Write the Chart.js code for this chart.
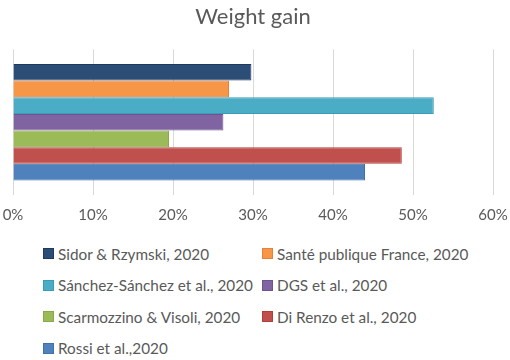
<!DOCTYPE html>
<html>
<head>
<meta charset="utf-8">
<script src="https://cdn.jsdelivr.net/npm/chart.js@4"></script>
<style>
  body { margin: 0; background: #fff; }
  #wrap { position: relative; width: 510px; height: 360px; }
  #box { position: absolute; left: 0; top: 0; width: 510px; height: 239px; }
  #legend {
    position: absolute; left: 43px; top: 243px;
    display: grid; grid-template-columns: 219px 230px; row-gap: 10.5px;
    font-family: Lato, sans-serif; font-size: 15.3px; color: #595959;
  }
  .item { display: flex; align-items: center; height: 21px; white-space: nowrap; }
  .sw { width: 9px; height: 9px; margin-right: 4px; border: 1px solid; }
</style>
</head>
<body>
<div id="wrap">
  <div id="box"><canvas id="weightChart"></canvas></div>
  <div id="legend"></div>
</div>
<script>
// one category, one dataset per study
let studies = ["Sidor & Rzymski, 2020", "Santé publique France, 2020", "Sánchez-Sánchez et al., 2020",
  "DGS et al., 2020", "Scarmozzino & Visoli, 2020", "Di Renzo et al., 2020", "Rossi et al.,2020"]
let gain = [29.8, 27.0, 52.6, 26.3, 19.5, 48.6, 44.0]
let fills = ["#2C4D75", "#F79646", "#4BACC6", "#8064A2", "#9BBB59", "#C0504D", "#4F81BD"]
let edges = ["#1F3864", "#E6803A", "#3A9CB6", "#6E5390", "#8AAA48", "#B03F3C", "#3E70AC"]
let xTicks = [0, 10, 20, 30, 40, 50, 60]

let ctx = document.getElementById("weightChart").getContext("2d")

let datasets = studies.map(function(name, i) {
  return {
    label: name,
    data: [gain[i]],
    backgroundColor: fills[i],
    borderColor: edges[i],
    borderWidth: 1,
    categoryPercentage: 0.8,
    barPercentage: 1.0
  }
})

let chart = new Chart(ctx, {
  type: 'bar',
  data: { labels: ["Weight gain"], datasets: datasets },
  options: {
    indexAxis: 'y',
    responsive: true,
    maintainAspectRatio: false,
    animation: false,
    layout: { padding: { left: 13, right: 17, top: 0, bottom: 4 } },
    plugins: {
      legend: { display: false },
      tooltip: { enabled: false },
      title: {
        display: true,
        text: "Weight gain",
        color: "#595959",
        font: { family: "Lato", size: 22, weight: 'normal' },
        padding: { top: 4, bottom: 19 }
      }
    },
    scales: {
      x: {
        min: 0, max: 60,
        afterBuildTicks: function(axis) {
          axis.ticks = xTicks.map(function(v) { return { value: v } })
        },
        // let the layout padding alone decide the plot edges
        afterFit: function(axis) {
          axis.paddingLeft = 0
          axis.paddingRight = 0
        },
        ticks: {
          color: "#595959",
          font: { family: "Lato", size: 15 },
          padding: 11,
          callback: function(v) { return v + "%" }
        },
        grid: { color: "#D9D9D9", drawTicks: false },
        border: { display: false }
      },
      y: { display: false }
    }
  }
})

// two-column legend like the original
let legendEl = document.getElementById("legend")
chart.data.datasets.forEach(function(ds) {
  let item = document.createElement("div")
  item.className = "item"
  let sw = document.createElement("span")
  sw.className = "sw"
  sw.style.background = ds.backgroundColor
  sw.style.borderColor = ds.borderColor
  item.appendChild(sw)
  item.appendChild(document.createTextNode(ds.label))
  legendEl.appendChild(item)
})
</script>
</body>
</html>
